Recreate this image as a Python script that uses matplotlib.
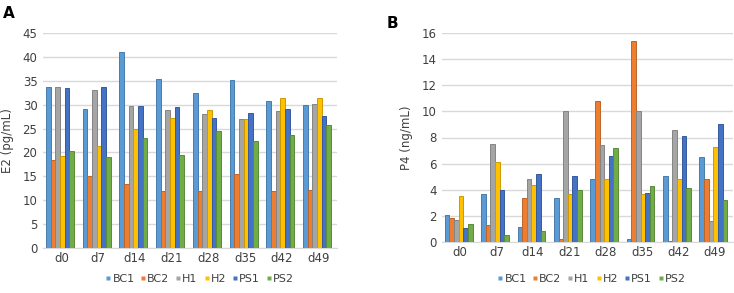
import matplotlib
matplotlib.use("Agg")
import matplotlib.pyplot as plt
import numpy as np
from matplotlib.lines import Line2D
from matplotlib.colors import to_rgb

days = ["d0", "d7", "d14", "d21", "d28", "d35", "d42", "d49"]
series = ["BC1", "BC2", "H1", "H2", "PS1", "PS2"]
colors = ["#5B9BD5", "#ED7D31", "#A5A5A5", "#FFC000", "#4472C4", "#70AD47"]

e2_BC1 = [33.8, 29.0, 41.0, 35.3, 32.5, 35.1, 30.8, 29.9]
e2_BC2 = [18.4, 15.0, 13.5, 12.0, 12.0, 15.4, 12.0, 12.2]
e2_H1 = [33.6, 33.0, 29.8, 28.8, 28.0, 27.0, 28.6, 30.1]
e2_H2 = [19.3, 21.3, 25.0, 27.3, 28.9, 26.9, 31.3, 31.3]
e2_PS1 = [33.5, 33.6, 29.8, 29.6, 27.2, 28.2, 29.1, 27.6]
e2_PS2 = [20.3, 19.0, 23.0, 19.4, 24.4, 22.4, 23.6, 25.7]

p4_BC1 = [2.1, 3.7, 1.15, 3.4, 4.85, 0.2, 5.05, 6.5]
p4_BC2 = [1.8, 1.3, 3.4, 0.25, 10.8, 15.35, 0.05, 4.85]
p4_H1 = [1.65, 7.5, 4.8, 10.05, 7.4, 10.0, 8.6, 1.6]
p4_H2 = [3.55, 6.1, 4.35, 3.65, 4.8, 3.65, 4.85, 7.3]
p4_PS1 = [1.1, 3.95, 5.2, 5.05, 6.6, 3.75, 8.15, 9.05]
p4_PS2 = [1.35, 0.55, 0.85, 4.0, 7.2, 4.3, 4.1, 3.25]

e2 = [e2_BC1, e2_BC2, e2_H1, e2_H2, e2_PS1, e2_PS2]
p4 = [p4_BC1, p4_BC2, p4_H1, p4_H2, p4_PS1, p4_PS2]

fig = plt.figure(figsize=(7.34, 2.93), dpi=100)
plt.rcParams['font.family'] = ['DejaVu Sans']
txt = "#404040"

def darker(c, f=0.8):
    r, g, b = to_rgb(c)
    return (r * f, g * f, b * f)

def panel(rect, data, ymax, step, ylabel, letter, lpos, legx):
    ax = fig.add_axes(rect)
    x = np.arange(len(days))
    w = 0.127
    for i, (vals, c) in enumerate(zip(data, colors)):
        xi = x + (i - 2.5) * w - 0.04
        ax.bar(xi, vals, width=w, color=c, edgecolor=darker(c), linewidth=0.7, zorder=3)
    ax.set_xlim(-0.5, len(days) - 0.5)
    ax.set_ylim(0, ymax)
    ax.set_yticks(np.arange(0, ymax + 0.01, step))
    ax.set_xticks(x)
    ax.set_xticklabels(days)
    ax.grid(axis='y', color='#d9d9d9', linewidth=1.0, zorder=0)
    for s in ['top', 'right', 'left']:
        ax.spines[s].set_visible(False)
    ax.spines['bottom'].set_color('#d9d9d9')
    ax.tick_params(axis='both', length=0, labelsize=8.5, colors=txt, pad=4)
    ax.tick_params(axis='x', pad=3)
    ax.set_ylabel(ylabel, fontsize=8.5, color=txt, labelpad=6)
    fig.text(lpos[0], lpos[1], letter, fontsize=11, fontweight='bold', ha='left', va='center')
    handles = [Line2D([], [], marker='s', linestyle='none', markersize=3,
                      markerfacecolor=c, markeredgecolor='none', label=s)
               for s, c in zip(series, colors)]
    fig.legend(handles=handles, loc='center', bbox_to_anchor=(legx, 1 - 279 / 293), ncol=6,
               frameon=False, fontsize=8, handletextpad=0.0, columnspacing=0.45,
               handlelength=0.7, labelcolor=txt)
    return ax

panel([43 / 734, 1 - 248 / 293, (337 - 43) / 734, (248 - 33) / 293], e2, 45, 5,
      "E2 (pg/mL)", "A", (3 / 734, 1 - 14 / 293), 199 / 734)
panel([442 / 734, 1 - 242 / 293, (733 - 442) / 734, (242 - 33) / 293], p4, 16, 2,
      "P4 (ng/mL)", "B", (387 / 734, 1 - 23 / 293), 591 / 734)

fig.savefig("out.png", dpi=100)
